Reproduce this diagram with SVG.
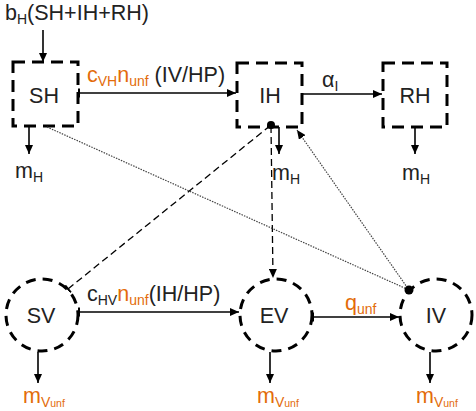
<svg xmlns="http://www.w3.org/2000/svg" width="476" height="411" viewBox="0 0 476 411">
<style>
.box{fill:none;stroke:#000;stroke-width:3;stroke-dasharray:12,7}
.circ{fill:none;stroke:#000;stroke-width:3;stroke-dasharray:10,7}
.t{font-family:"Liberation Sans",Arial,sans-serif;font-size:21.5px;fill:#222}
.lbl{font-family:"Liberation Sans",Arial,sans-serif;font-size:21.5px;fill:#222}
.o{fill:#E36C0A}
.ln{fill:none;stroke:#000;stroke-width:1.3}
.mort{fill:none;stroke:#000;stroke-width:1.6}
.dash{fill:none;stroke:#000;stroke-width:1.3;stroke-dasharray:7,4}
.dot{fill:none;stroke:#444;stroke-width:1.2;stroke-dasharray:1.5,1.2}
</style>
<defs>
<marker id="ah" markerWidth="10" markerHeight="8" refX="9" refY="4" orient="auto" markerUnits="userSpaceOnUse">
<path d="M0,0 L9,4 L0,8 z" fill="#000"/>
</marker>
<marker id="tk" markerWidth="4" markerHeight="10" refX="1" refY="5" orient="auto" markerUnits="userSpaceOnUse">
<line x1="1" y1="0.5" x2="1" y2="9.5" stroke="#000" stroke-width="2"/>
</marker>
</defs>

<g id="SH">
<rect class="box" x="13" y="62" width="65" height="64"/>
<text class="t" x="44" y="103" text-anchor="middle">SH</text>
</g>
<g id="IH">
<rect class="box" x="237" y="63" width="65" height="64"/>
<text class="t" x="270" y="103" text-anchor="middle">IH</text>
</g>
<g id="RH">
<rect class="box" x="383" y="63" width="64" height="64"/>
<text class="t" x="415" y="103" text-anchor="middle">RH</text>
</g>
<g id="SV">
<circle class="circ" cx="42" cy="315" r="36"/>
<text class="t" x="41" y="323" text-anchor="middle">SV</text>
</g>
<g id="EV">
<circle class="circ" cx="276" cy="315" r="36"/>
<text class="t" x="274" y="323" text-anchor="middle">EV</text>
</g>
<g id="IV">
<circle class="circ" cx="436" cy="315" r="36"/>
<text class="t" x="436" y="323" text-anchor="middle">IV</text>
</g>

<g id="connectors">
<line class="mort" x1="43" y1="30" x2="43" y2="62" marker-end="url(#ah)"/>
<line class="ln" x1="79" y1="93" x2="236" y2="93" marker-start="url(#tk)" marker-end="url(#ah)"/>
<line class="ln" x1="303" y1="94" x2="382" y2="94" marker-end="url(#ah)"/>
<line class="ln" x1="79" y1="312" x2="239" y2="312" marker-start="url(#tk)" marker-end="url(#ah)"/>
<line class="ln" x1="313" y1="317" x2="399" y2="317" marker-start="url(#tk)" marker-end="url(#ah)"/>
<line class="dash" x1="68" y1="289" x2="271" y2="125" marker-start="url(#tk)"/>
<line class="dash" x1="271" y1="126" x2="273" y2="278" marker-end="url(#ah)"/>
<line class="dot" x1="47" y1="127" x2="409" y2="290"/>
<line class="dot" x1="409" y1="290" x2="297" y2="130" marker-end="url(#ah)"/>
<circle cx="271" cy="125" r="4" fill="#000"/>
<circle cx="409" cy="290" r="4.5" fill="#000"/>
<line class="mort" x1="29" y1="127" x2="29" y2="154" marker-end="url(#ah)"/>
<line class="mort" x1="279" y1="127" x2="279" y2="154" marker-end="url(#ah)"/>
<line class="mort" x1="415" y1="127" x2="415" y2="154" marker-end="url(#ah)"/>
<line class="mort" x1="38" y1="352" x2="38" y2="383" marker-end="url(#ah)"/>
<line class="mort" x1="270" y1="352" x2="270" y2="383" marker-end="url(#ah)"/>
<line class="mort" x1="430" y1="352" x2="430" y2="383" marker-end="url(#ah)"/>
</g>

<g id="labels">
<text class="lbl" x="5" y="20">b<tspan font-size="14" dy="4">H</tspan><tspan dy="-4">(SH+IH+RH)</tspan></text>
<text class="lbl" x="87" y="82"><tspan class="o">c</tspan><tspan class="o" font-size="14" dy="4">VH</tspan><tspan class="o" dy="-4">n</tspan><tspan class="o" font-size="14" dy="4">unf</tspan><tspan dy="-4"> (IV/HP)</tspan></text>
<text class="lbl" x="322" y="87">α<tspan font-size="14" dy="4">I</tspan></text>
<text class="lbl" x="87" y="301">c<tspan font-size="14" dy="4">HV</tspan><tspan class="o" dy="-4">n</tspan><tspan class="o" font-size="14" dy="4">unf</tspan><tspan dy="-4">(IH/HP)</tspan></text>
<text class="lbl o" x="345" y="310">q<tspan font-size="14" dy="4">unf</tspan></text>
<text class="lbl" x="15" y="178">m<tspan font-size="14" dy="4">H</tspan></text>
<text class="lbl" x="272" y="180">m<tspan font-size="14" dy="4">H</tspan></text>
<text class="lbl" x="402" y="180">m<tspan font-size="14" dy="4">H</tspan></text>
<text class="lbl o" x="23" y="403">m<tspan font-size="14" dy="4">V</tspan><tspan font-size="10.5">unf</tspan></text>
<text class="lbl o" x="257" y="403">m<tspan font-size="14" dy="4">V</tspan><tspan font-size="10.5">unf</tspan></text>
<text class="lbl o" x="416" y="403">m<tspan font-size="14" dy="4">V</tspan><tspan font-size="10.5">unf</tspan></text>
</g>
</svg>
